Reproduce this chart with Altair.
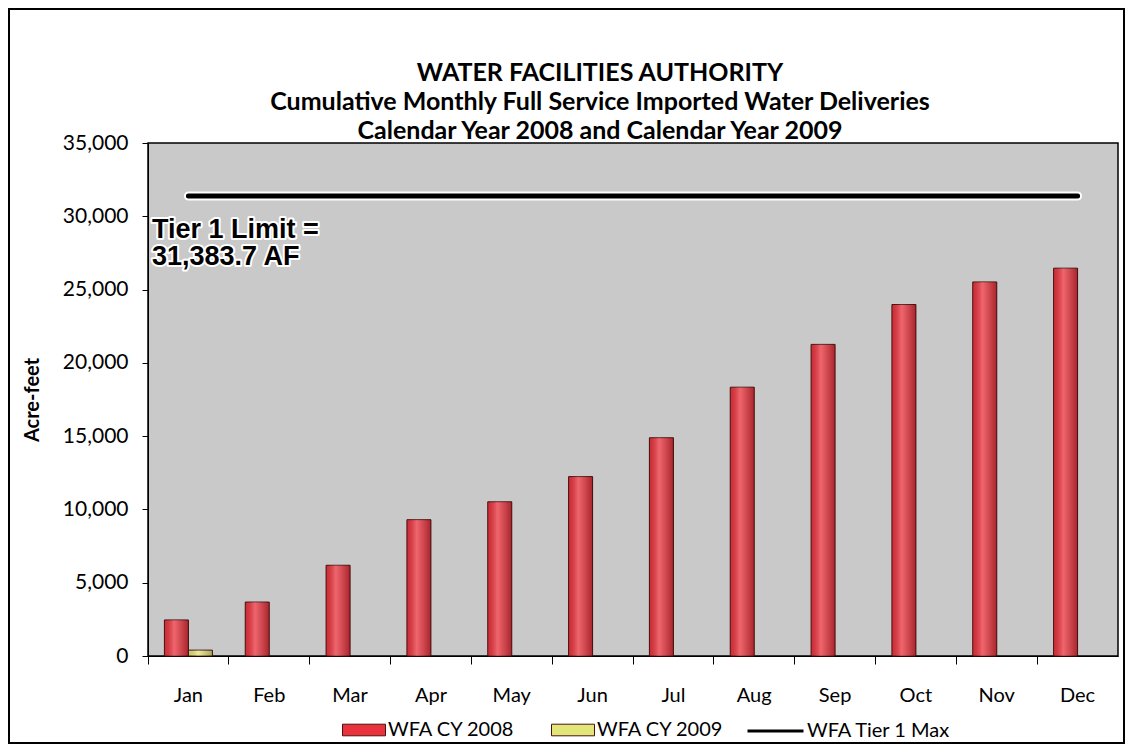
import altair as alt
import pandas as pd

# ---- data ----
months = ["Jan", "Feb", "Mar", "Apr", "May", "Jun", "Jul", "Aug", "Sep", "Oct", "Nov", "Dec"]
wfa_cy2008 = [2460, 3680, 6190, 9300, 10520, 12240, 14890, 18340, 21260, 23980, 25520, 26460]
wfa_cy2009 = [400, None, None, None, None, None, None, None, None, None, None, None]
tier1_limit = 31383.7
bar_series = ["WFA CY 2008", "WFA CY 2009"]
line_series = "WFA Tier 1 Max"
y_ticks = [0, 5000, 10000, 15000, 20000, 25000, 30000, 35000]
title_lines = [
    "WATER FACILITIES AUTHORITY",
    "Cumulative Monthly Full Service Imported Water Deliveries",
    "Calendar Year 2008 and Calendar Year 2009",
]
note_lines = ["Tier 1 Limit =", "31,383.7 AF"]
note_values = [28500, 26650]

rows = []
for m, v in zip(months, wfa_cy2008):
    rows.append({"month": m, "series": bar_series[0], "value": v})
for m, v in zip(months, wfa_cy2009):
    if v is not None:
        rows.append({"month": m, "series": bar_series[1], "value": v})
bars_df = pd.DataFrame(rows)
line_df = pd.DataFrame({"month": months, "series": line_series,
                        "value": [tier1_limit] * len(months)})
note_df = pd.DataFrame({"text": note_lines, "value": note_values})
one_df = pd.DataFrame({"k": [0]})

FONT = "Lato"
W, H = 970, 513

x_enc = alt.X(
    "month:N", sort=months,
    scale=alt.Scale(domain=months, paddingInner=0, paddingOuter=0),
    axis=alt.Axis(title=None, bandPosition=0, tickSize=8,
                  labelPadding=21, labelFont=FONT, labelFontSize=20, labelColor="black",
                  labelAngle=0, domainColor="black", tickColor="black", grid=False),
)
y_enc = alt.Y(
    "value:Q",
    scale=alt.Scale(domain=[0, 35000], nice=False, zero=True),
    axis=alt.Axis(title="Acre-feet", values=y_ticks, format=",.0f", grid=False, tickSize=6,
                  labelPadding=14, labelFont=FONT, labelFontSize=21, labelColor="black",
                  titleFont=FONT, titleFontSize=20, titleFontWeight="bold", titleColor="black",
                  titleX=-116, titleY=H / 2, titleAlign="center", titleBaseline="middle",
                  titleAngle=270, domainColor="black", tickColor="black"),
)
xoff = alt.XOffset("series:N", scale=alt.Scale(domain=bar_series, paddingInner=0, paddingOuter=0.684))

bars = alt.Chart(bars_df).mark_bar(stroke="#4a1010", strokeWidth=1).encode(
    x=x_enc, y=y_enc, xOffset=xoff,
    fill=alt.Fill("series:N",
                  scale=alt.Scale(domain=bar_series, range=["#ea323c", "#e2e678"]),
                  legend=alt.Legend(title=None, orient="none", legendX=194, legendY=565,
                                    direction="horizontal", symbolType="M-1,-0.27H1V0.27H-1Z",
                                    symbolSize=1849, symbolStrokeColor="#4a1010",
                                    symbolStrokeWidth=1, labelFont=FONT, labelFontSize=20,
                                    labelColor="black", columnPadding=34, labelOffset=2)),
)

shade = alt.Chart(bars_df).mark_bar(
    fill=alt.LinearGradient(
        gradient="linear", x1=0, x2=1, y1=0, y2=0,
        stops=[alt.GradientStop(color="rgba(0,0,0,0.12)", offset=0),
               alt.GradientStop(color="rgba(255,255,255,0.25)", offset=0.4),
               alt.GradientStop(color="rgba(0,0,0,0.28)", offset=1)]),
    strokeOpacity=0,
).encode(x=x_enc, y=y_enc, xOffset=xoff)

halo = alt.Chart(line_df).mark_line(color="white", strokeWidth=9, strokeCap="round").encode(
    x=x_enc, y=y_enc)
line = alt.Chart(line_df).mark_line(strokeWidth=5, strokeCap="round").encode(
    x=x_enc, y=y_enc,
    stroke=alt.Stroke("series:N", scale=alt.Scale(domain=[line_series], range=["black"]),
                      legend=alt.Legend(title=None, orient="none", legendX=598, legendY=558.5,
                                        symbolType="stroke", symbolSize=3136,
                                        symbolStrokeWidth=3, labelFont=FONT, labelFontSize=20,
                                        labelColor="black", labelOffset=2)),
)

note_base = alt.Chart(note_df).encode(x=alt.value(4), y=y_enc, text="text:N")
note_halo = note_base.mark_text(align="left", baseline="alphabetic", font="Liberation Sans",
                                fontSize=27, fontWeight="bold", fill="black", stroke="white",
                                strokeWidth=4, strokeJoin="round")
note = note_base.mark_text(align="left", baseline="alphabetic", font="Liberation Sans",
                           fontSize=27, fontWeight="bold", fill="black")

title = alt.Chart(one_df).mark_text(
    text=title_lines, font=FONT, fontSize=25, fontWeight="bold", color="black",
    align="center", baseline="top", lineHeight=29,
).encode(x=alt.value(W / 2 - 33), y=alt.value(-82))

frame = alt.Chart(one_df).mark_rect(filled=False, stroke="black", strokeWidth=2).encode(
    x=alt.value(-139), x2=alt.value(976), y=alt.value(-134), y2=alt.value(600))

chart = alt.layer(frame, title, bars, shade, halo, line, note_halo, note).properties(
    width=W, height=H, padding=0,
).resolve_scale(fill="independent", stroke="independent").configure(
    background="white",
    view=alt.ViewConfig(fill="#c9c9c9", stroke="black", strokeWidth=1.5),
)

chart.save("out.html", embed_options={"renderer": "svg", "actions": False})
